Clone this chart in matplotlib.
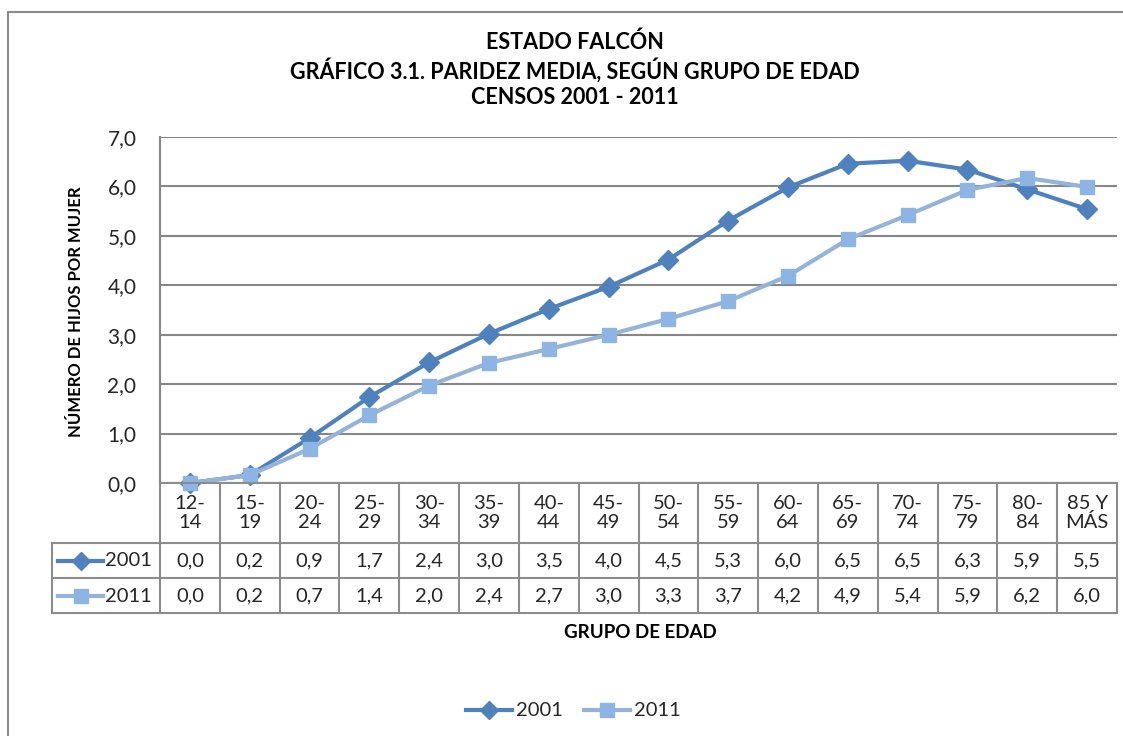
import matplotlib
matplotlib.use("Agg")
import matplotlib.pyplot as plt
from matplotlib.lines import Line2D
from matplotlib.patches import Rectangle
import matplotlib.transforms as mtransforms

plt.rcParams['font.family'] = ['Lato', 'DejaVu Sans']

categories = ["12-\n14", "15-\n19", "20-\n24", "25-\n29", "30-\n34", "35-\n39", "40-\n44",
              "45-\n49", "50-\n54", "55-\n59", "60-\n64", "65-\n69", "70-\n74", "75-\n79",
              "80-\n84", "85 Y\nMÁS"]
series_names = ["2001", "2011"]
values_2001 = [0.0, 0.16, 0.91, 1.74, 2.44, 3.02, 3.52, 3.97, 4.52, 5.31, 5.98, 6.46, 6.52, 6.34, 5.94, 5.54]
values_2011 = [0.0, 0.16, 0.69, 1.37, 1.97, 2.43, 2.71, 3.0, 3.32, 3.68, 4.19, 4.93, 5.42, 5.93, 6.17, 5.99]
yticks = [0, 1, 2, 3, 4, 5, 6, 7]

title_lines = ["ESTADO FALCÓN", "GRÁFICO 3.1. PARIDEZ MEDIA, SEGÚN GRUPO DE EDAD", "CENSOS 2001 - 2011"]

W, H = 1123, 736
fig = plt.figure(figsize=(W / 100, H / 100), dpi=100)

def fx(px):
    return px / W

def fy(py):
    return 1 - py / H

c2001 = "#4F81BD"
c2011_line = "#95B3D7"
c2011_mk = "#8DB4E2"
grid_c = "#868686"
txt_c = "#262626"
fs = 14.5

# outer chart border
fig.patches.append(Rectangle((fx(8), fy(760)), fx(1140) - fx(8), fy(12) - fy(760),
                             transform=fig.transFigure, fill=False, edgecolor="#8C8C8C",
                             linewidth=1.5, zorder=0))

L, R, T, B = 160, 1117, 137, 483
ax = fig.add_axes([fx(L), fy(B), fx(R) - fx(L), fy(T) - fy(B)])
n = len(categories)
x = list(range(n))
ax.set_xlim(-0.5, n - 0.5)
ax.set_ylim(0, 7)
ax.set_yticks(yticks)
ax.set_yticklabels([f"{v:.1f}".replace(".", ",") for v in yticks], fontsize=15, color=txt_c)
ax.set_xticks([])
ax.tick_params(axis="y", length=0, pad=17)
for s in ["top", "right", "bottom"]:
    ax.spines[s].set_visible(False)
ax.spines["left"].set_color(grid_c)
ax.spines["left"].set_linewidth(1.5)
ax.yaxis.grid(True, color=grid_c, linewidth=1.5)
ax.set_axisbelow(True)

ax.plot(x, values_2001, color=c2001, linewidth=3, marker="D", markersize=10.5,
        markerfacecolor=c2001, markeredgecolor=c2001, zorder=3, clip_on=False)
ax.plot(x, values_2011, color=c2011_line, linewidth=3, marker="s", markersize=10.5,
        markerfacecolor=c2011_mk, markeredgecolor=c2011_mk, zorder=3, clip_on=False)

# data table
trans = mtransforms.blended_transform_factory(ax.transData, fig.transFigure)
row_y = [483, 543, 578, 613]
lw_t = 1.5
tc = "#8C8C8C"
fig.add_artist(Line2D([fx(L), fx(R)], [fy(row_y[0]), fy(row_y[0])], transform=fig.transFigure, color=tc, lw=lw_t))
for yy in row_y[1:]:
    fig.add_artist(Line2D([fx(52), fx(R)], [fy(yy), fy(yy)], transform=fig.transFigure, color=tc, lw=lw_t))
for i in range(n + 1):
    xb = i - 0.5
    fig.add_artist(Line2D([xb, xb], [fy(row_y[0]), fy(row_y[3])], transform=trans, color=tc, lw=lw_t))
fig.add_artist(Line2D([fx(52), fx(52)], [fy(row_y[1]), fy(row_y[3])], transform=fig.transFigure, color=tc, lw=lw_t))

for i, cat in enumerate(categories):
    fig.text(i, fy(513), cat, transform=trans, ha="center", va="center", fontsize=fs,
             color=txt_c, linespacing=1.1)

for vals, yy in [(values_2001, 561), (values_2011, 596)]:
    for i, v in enumerate(vals):
        fig.text(i, fy(yy), f"{v:.1f}".replace(".", ","), transform=trans, ha="center",
                 va="center", fontsize=fs, color=txt_c)

for name, col, mcol, mk, yy in [(series_names[0], c2001, c2001, "D", 561),
                                (series_names[1], c2011_line, c2011_mk, "s", 596)]:
    fig.add_artist(Line2D([fx(58), fx(103)], [fy(yy), fy(yy)], transform=fig.transFigure,
                          color=col, lw=3))
    fig.add_artist(Line2D([fx(80.5)], [fy(yy)], transform=fig.transFigure, marker=mk,
                          markersize=9.5, color=mcol, lw=0))
    fig.text(fx(152), fy(yy), name, ha="right", va="center", fontsize=fs, color=txt_c)

# titles
for i, line in enumerate(title_lines):
    fig.text(fx(575), fy(42 + 28 * i), line, ha="center", va="center", fontsize=15.5,
             fontweight="bold", color="black")

fig.text(fx(76), fy(312), "NÚMERO DE HIJOS POR MUJER", rotation=90, ha="center", va="center",
         fontsize=12, fontweight="bold", color="black")
fig.text(fx(640), fy(632), "GRUPO DE EDAD", ha="center", va="center", fontsize=13.5,
         fontweight="bold", color="black")

# bottom legend
for name, col, mcol, mk, x0 in [(series_names[0], c2001, c2001, "D", 466),
                                 (series_names[1], c2011_line, c2011_mk, "s", 584)]:
    fig.add_artist(Line2D([fx(x0), fx(x0 + 46)], [fy(710), fy(710)], transform=fig.transFigure,
                          color=col, lw=3))
    fig.add_artist(Line2D([fx(x0 + 23)], [fy(710)], transform=fig.transFigure, marker=mk,
                          markersize=9.5, color=mcol, lw=0))
    fig.text(fx(x0 + 50), fy(710), name, ha="left", va="center", fontsize=fs, color=txt_c)

fig.savefig("out.png", dpi=100)
